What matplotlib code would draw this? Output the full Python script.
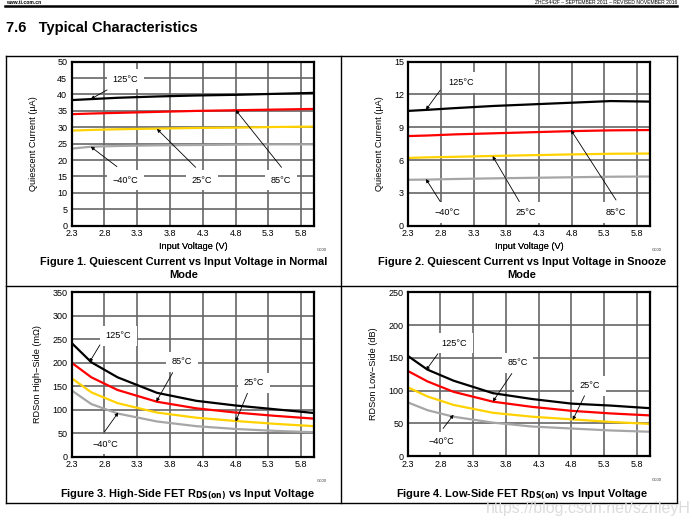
import matplotlib
matplotlib.use("Agg")
import matplotlib.pyplot as plt
from matplotlib.lines import Line2D

plt.rcParams['font.family'] = ['Liberation Sans', 'DejaVu Sans']

W, H = 692, 527

# ---- data ----
vin = [2.3, 2.6, 3.0, 3.6, 4.2, 4.8, 5.4, 6.0]

# Figure 1: quiescent current, normal mode (uA)
iq_norm_125 = [38.3, 38.6, 39.0, 39.4, 39.7, 39.9, 40.2, 40.5]
iq_norm_85 = [34.0, 34.2, 34.4, 34.7, 35.0, 35.2, 35.4, 35.6]
iq_norm_25 = [29.0, 29.2, 29.4, 29.6, 29.8, 29.9, 30.1, 30.2]
iq_norm_m40 = [23.5, 24.1, 24.3, 24.5, 24.6, 24.7, 24.8, 24.8]

# Figure 2: quiescent current, snooze mode (uA)
iq_snz_125 = [10.5, 10.6, 10.75, 10.95, 11.1, 11.25, 11.4, 11.35]
iq_snz_85 = [8.2, 8.25, 8.35, 8.45, 8.55, 8.65, 8.72, 8.75]
iq_snz_25 = [6.2, 6.25, 6.3, 6.38, 6.45, 6.52, 6.58, 6.6]
iq_snz_m40 = [4.2, 4.22, 4.27, 4.33, 4.38, 4.43, 4.48, 4.5]

# Figure 3: high-side RDS(on) (mOhm)
rhs_125 = [242, 201, 169, 136, 119, 109, 101, 93]
rhs_85 = [200, 169, 142, 117, 103, 94, 87, 81]
rhs_25 = [167, 137, 114, 94, 83, 76, 70, 65]
rhs_m40 = [141, 112, 92, 75, 65, 59, 55, 52]

# Figure 4: low-side RDS(on)
rls_125 = [153, 132, 115, 96, 87, 80, 77, 73]
rls_85 = [130, 114, 98, 83, 75, 69, 65, 62]
rls_25 = [105, 91, 78, 66, 60, 56, 52, 49]
rls_m40 = [82, 70, 60, 51, 45, 42, 39, 37]

colors = ['#000000', '#ff0000', '#ffd200', '#a6a6a6']
xticks = [2.3, 2.8, 3.3, 3.8, 4.3, 4.8, 5.3, 5.8]


def fx(x):
    return x / W


def fy(y):
    return 1 - y / H


fig = plt.figure(figsize=(W / 100, H / 100), dpi=100)


def hline(x0, x1, y, lw=1.0):
    fig.add_artist(Line2D([fx(x0), fx(x1)], [fy(y), fy(y)], color='black', lw=lw))


def vline(x, y0, y1, lw=1.0):
    fig.add_artist(Line2D([fx(x), fx(x)], [fy(y0), fy(y1)], color='black', lw=lw))


# page header
fig.text(fx(6), fy(0.3), 'www.ti.com.cn', fontsize=3.6, fontweight='bold', va='top')
fig.text(fx(677), fy(0.3), 'ZHCS442F – SEPTEMBER 2011 – REVISED NOVEMBER 2016',
         fontsize=3.6, ha='right', va='top')
hline(5, 677, 5.8, lw=1.8)
fig.text(fx(6), fy(28), '7.6   Typical Characteristics', fontsize=10.5, fontweight='bold', va='center')

# table border
hline(5.5, 677, 55.5)
hline(5.5, 677, 285.5)
hline(5.5, 677, 502.5)
vline(5.5, 55.5, 502.5)
vline(340.5, 55.5, 502.5)
vline(677, 55.5, 502.5)


def make_ax(x0, x1, y0, y1, ylim, ystep, ylabel, ylab_x, series, notes,
            caption, caption_x, caption_y):
    ax = fig.add_axes([fx(x0), fy(y1), fx(x1 - x0), (y1 - y0) / H])
    for ys, c in zip(series, colors):
        ax.plot(vin, ys, color=c, lw=1.6, zorder=3)
    ax.set_xlim(2.3, 6.0)
    ax.set_ylim(0, ylim)
    ax.set_xticks(xticks)
    ax.set_xticklabels([f'{t:.1f}' for t in xticks])
    ax.set_yticks(list(range(0, ylim + 1, ystep)))
    ax.grid(True, color='#666666', lw=1.2, zorder=1)
    ax.tick_params(length=0, labelsize=6.5)
    ax.tick_params(axis='y', pad=3.2)
    ax.tick_params(axis='x', pad=2.6)
    for s in ax.spines.values():
        s.set_linewidth(1.6)
        s.set_zorder(5)
    ax.set_xlabel('Input Voltage (V)', fontsize=6.6)
    ax.xaxis.label.set_va('top')
    ax.xaxis.set_label_coords(0.5, (y1 - 242.0) / (y1 - y0))
    ax.set_ylabel(ylabel, fontsize=6.6)
    ax.yaxis.set_label_coords((ylab_x - x0) / (x1 - x0), 0.5)
    ax.yaxis.label.set_va('center')
    for label, txt_xy, start, end in notes:
        ax.text(txt_xy[0], txt_xy[1], label, fontsize=6.6, ha='center', va='center', zorder=4,
                bbox=dict(fc='white', ec='none', pad=4))
        ax.annotate('', xy=end, xytext=start, zorder=6,
                    arrowprops=dict(arrowstyle='-|>', color='black', lw=0.6,
                                    shrinkA=0, shrinkB=0, mutation_scale=5))
    fig.text(fx(x1 + 7), fy(y1 + 24), 'G000', fontsize=3.0, color='#333333', ha='center', va='center')
    fig.text(fx(caption_x), fy(caption_y), caption, fontsize=7.9, fontweight='bold',
             ha='center', va='top', linespacing=1.4)
    return ax


make_ax(71.7, 314.3, 61.7, 225.7, 50, 5, 'Quiescent Current (µA)', 33,
        [iq_norm_125, iq_norm_85, iq_norm_25, iq_norm_m40],
        [('125°C', (3.12, 44.7), (2.84, 41.4), (2.59, 38.6)),
         ('−40°C', (3.12, 13.9), (2.99, 18.0), (2.59, 24.1)),
         ('25°C', (4.29, 13.9), (4.19, 17.8), (3.60, 29.5)),
         ('85°C', (5.49, 13.9), (5.50, 17.8), (4.80, 35.3))],
        'Figure 1. Quiescent Current vs Input Voltage in Normal\nMode', 184, 257)

make_ax(408.3, 650, 61.7, 225.7, 15, 3, 'Quiescent Current (µA)', 379,
        [iq_snz_125, iq_snz_85, iq_snz_25, iq_snz_m40],
        [('125°C', (3.11, 13.1), (2.79, 12.4), (2.57, 10.6)),
         ('−40°C', (2.90, 1.2), (2.79, 2.2), (2.57, 4.27)),
         ('25°C', (4.10, 1.2), (4.00, 2.2), (3.59, 6.37)),
         ('85°C', (5.48, 1.2), (5.48, 2.35), (4.79, 8.75))],
        'Figure 2. Quiescent Current vs Input Voltage in Snooze\nMode', 522, 257)

make_ax(71.7, 314.3, 292.3, 456.7, 350, 50, 'RDSon High−Side (mΩ)', 38,
        [rhs_125, rhs_85, rhs_25, rhs_m40],
        [('125°C', (3.01, 257.6), (2.73, 238), (2.57, 201)),
         ('85°C', (3.98, 202), (3.84, 179), (3.59, 117)),
         ('25°C', (5.08, 157.5), (4.98, 135), (4.80, 74.5)),
         ('−40°C', (2.81, 27), (2.80, 53), (3.01, 94))],
        'Figure 3. High-Side FET R$_{\\mathbf{DS(on)}}$ vs Input Voltage', 187, 487.5)

make_ax(407.7, 650, 292.3, 456.0, 250, 50, 'RDSon Low−Side (dB)', 373,
        [rls_125, rls_85, rls_25, rls_m40],
        [('125°C', (3.01, 172), (2.76, 156), (2.58, 131)),
         ('85°C', (3.98, 142.6), (3.89, 126), (3.60, 83)),
         ('25°C', (5.08, 107), (5.00, 92), (4.82, 55)),
         ('−40°C', (2.81, 22), (2.84, 42), (3.00, 63))],
        'Figure 4. Low-Side FET R$_{\\mathbf{DS(on)}}$ vs Input Voltage', 522, 487.5)

fig.text(fx(691), fy(509), 'https://blog.csdn.net/szrileyH', fontsize=11.5, color='#dcdcdc',
         ha='right', va='center')

fig.savefig('out.png', dpi=100)
